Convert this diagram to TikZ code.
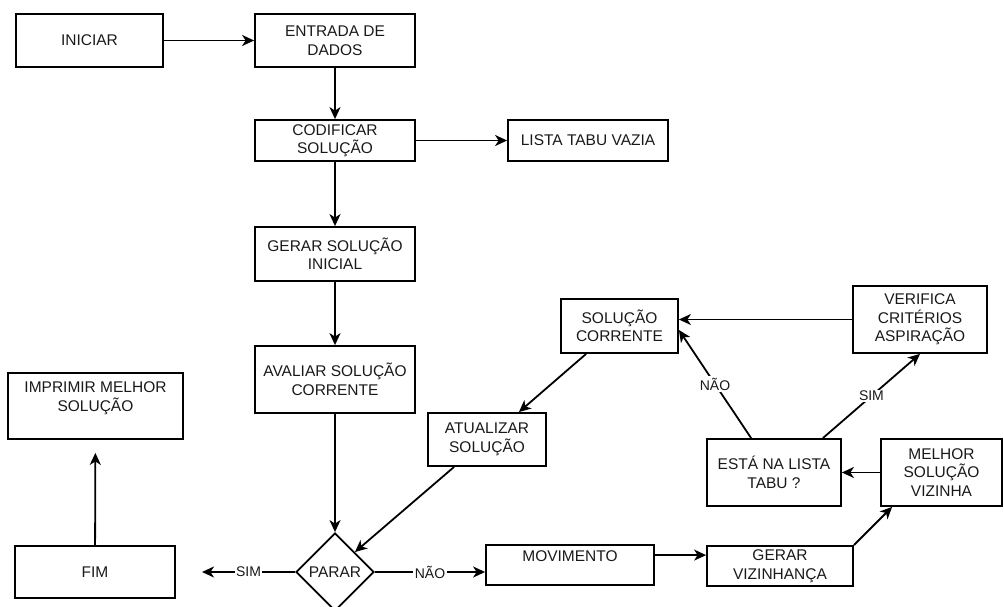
\documentclass[tikz,border=0pt]{standalone}
\usepackage{fontspec}
\setmainfont{Liberation Sans}
\usetikzlibrary{arrows.meta,shapes.geometric}

\begin{document}
\begin{tikzpicture}[x=1pt,y=-1pt,
    caixa/.style={draw, line width=1.8pt, align=center, inner sep=2pt, text=black!90,
      font=\fontsize{15.5}{18.5}\selectfont},
    seta/.style={line width=1.8pt, -{Stealth[length=12pt,width=11pt,inset=3.5pt]}},
    rotulo/.style={fill=white, inner sep=1.5pt, text=black!90, font=\fontsize{14}{16}\selectfont}]

    \useasboundingbox (0,0) rectangle (1004,607);


    \node[caixa, minimum width=147, minimum height=53] (iniciar) at (89.5,40.5) {INICIAR};

    \node[caixa, minimum width=160, minimum height=53] (entrada) at (335,40.5) {ENTRADA DE\\DADOS};

    \node[caixa, minimum width=160, minimum height=41] (codificar) at (335,140.5) {CODIFICAR\\SOLUÇÃO};

    \node[caixa, minimum width=160, minimum height=41] (listavazia) at (588,140.5) {LISTA TABU VAZIA};

    \node[caixa, minimum width=160, minimum height=54] (gerarinicial) at (335,254) {GERAR SOLUÇÃO\\INICIAL};

    \node[caixa, minimum width=160, minimum height=67] (avaliar) at (335,379.5) {AVALIAR SOLUÇÃO\\CORRENTE};

    \node[caixa, diamond, minimum width=78, minimum height=78, inner sep=0pt] (parar) at (335,572) {PARAR};

    \node[caixa, minimum width=160, minimum height=52] (fim) at (95,572) {FIM};

    \node[caixa, minimum width=175, minimum height=66] (imprimir) at (95.5,406) {IMPRIMIR MELHOR\\SOLUÇÃO\\~};

    \node[caixa, minimum width=168, minimum height=40] (movimento) at (570,565) {MOVIMENTO\\~};

    \node[caixa, minimum width=146, minimum height=40, inner sep=0pt] (gerarviz) at (780,566) {GERAR\\VIZINHANÇA};

    \node[caixa, minimum width=121, minimum height=67] (melhor) at (941.5,472.5) {MELHOR\\SOLUÇÃO\\VIZINHA};

    \node[caixa, minimum width=134, minimum height=67] (natabu) at (774,472.5) {ESTÁ NA LISTA\\TABU ?};

    \node[caixa, minimum width=134, minimum height=67] (verifica) at (920,319.5) {VERIFICA\\CRITÉRIOS\\ASPIRAÇÃO};

    \node[caixa, minimum width=117, minimum height=54] (corrente) at (619.5,326) {SOLUÇÃO\\CORRENTE};

    \node[caixa, minimum width=118, minimum height=53] (atualizar) at (487,439.5) {ATUALIZAR\\SOLUÇÃO};

    \coordinate (saida) at (202,572);


    \draw[seta] (iniciar) -- (entrada);

    \draw[seta] (entrada) -- (codificar);

    \draw[seta] (codificar) -- (listavazia);

    \draw[seta] (codificar) -- (gerarinicial);

    \draw[seta] (gerarinicial) -- (avaliar);

    \draw[seta] (avaliar) -- (parar);

    \draw[seta] (parar) -- node[rotulo] {SIM} (saida);

    \draw[seta] (parar.east) -- node[rotulo] {NÃO} (parar.east -| movimento.west);

    \draw[seta] ([yshift=-11pt]movimento.north east) -- ([yshift=-11pt]movimento.north east -| gerarviz.west);

    \draw[seta] (gerarviz.north east) -- ([xshift=12pt]melhor.south west);

    \draw[seta] (melhor) -- (natabu);

    \draw[seta] ([xshift=45pt]natabu.north west) -- node[rotulo] {NÃO} ([yshift=-4pt]corrente.east);

    \draw[seta] ([xshift=-19pt]natabu.north east) -- node[rotulo] {SIM} (verifica.south);

    \draw[seta] (verifica.west) -- (verifica.west -| corrente.east);

    \draw[seta] ([xshift=26pt]corrente.south west) -- ([xshift=-28pt]atualizar.north east);

    \draw[seta] ([xshift=27pt]atualizar.south west) -- (parar.north east);

    \draw[seta, shorten >=13pt] (fim) -- (imprimir);

\end{tikzpicture}
\end{document}
